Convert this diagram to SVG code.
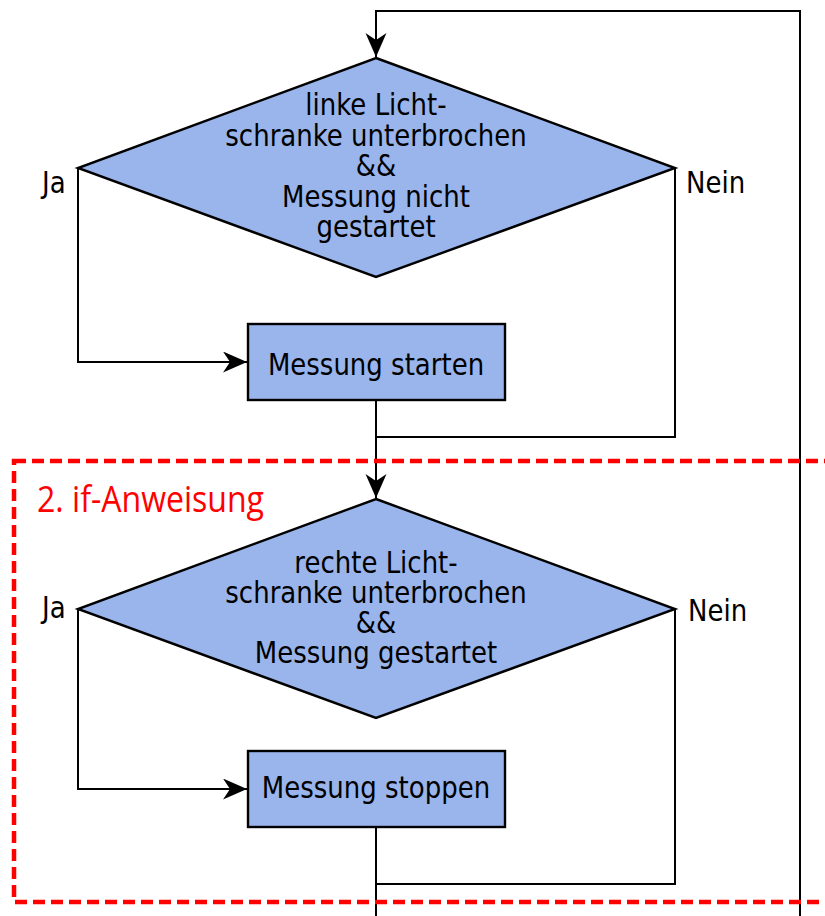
<svg xmlns="http://www.w3.org/2000/svg" width="825" height="916" viewBox="0 0 825 916">
<defs>
<marker id="arr" markerWidth="26" markerHeight="22" refX="24" refY="10.5" orient="auto" markerUnits="userSpaceOnUse">
<path d="M0,0 L24,10.5 L0,21 L7,10.5 Z" fill="#000"/>
</marker>
<style>
.shape{fill:#9ab5ec;stroke:#000;stroke-width:2.4}
.t{font-family:"DejaVu Sans",sans-serif;font-size:26px;fill:#000;text-anchor:middle}
.lbl{font-family:"DejaVu Sans",sans-serif;font-size:26px;fill:#000}
.line{fill:none;stroke:#000;stroke-width:2}
</style>
</defs>
<rect width="825" height="916" fill="#fff"/>
<g id="connectors">
<path class="line" d="M800,916 L800,11 L376,11 L376,57" marker-end="url(#arr)"/>
<path class="line" d="M78,168 L78,362 L247,362" marker-end="url(#arr)"/>
<path class="line" d="M675,168 L675,437 L376,437"/>
<path class="line" d="M376,400 L376,498" marker-end="url(#arr)"/>
<path class="line" d="M78,609 L78,789 L247,789" marker-end="url(#arr)"/>
<path class="line" d="M675,609 L675,884 L376,884"/>
<path class="line" d="M376,827 L376,916"/>
</g>
<g id="decision1">
<polygon class="shape" points="376,58 675,168 376,277 78,168"/>
<text class="t" transform="translate(376,115) scale(1,1.13)">linke Licht-</text>
<text class="t" transform="translate(376,145.5) scale(1,1.13)">schranke unterbrochen</text>
<text class="t" transform="translate(376,176) scale(1,1.13)">&amp;&amp;</text>
<text class="t" transform="translate(376,206.5) scale(1,1.13)">Messung nicht</text>
<text class="t" transform="translate(376,237) scale(1,1.13)">gestartet</text>
<text class="lbl" transform="translate(42,193) scale(1,1.13)">Ja</text>
<text class="lbl" transform="translate(686,193) scale(1,1.13)">Nein</text>
</g>
<g id="process1">
<rect class="shape" x="248" y="324" width="257" height="76"/>
<text class="t" transform="translate(376,375) scale(1,1.13)">Messung starten</text>
</g>
<g id="frame">
<rect x="14" y="461" width="830" height="441" fill="none" stroke="#f00" stroke-width="4.5" stroke-dasharray="12,6"/>
<text transform="translate(37,512) scale(1,1.14)" font-family="Open Sans,sans-serif" font-size="32" fill="#f00" textLength="227" lengthAdjust="spacingAndGlyphs">2. if-Anweisung</text>
</g>
<g id="decision2">
<polygon class="shape" points="376,499 675,609 376,718 78,609"/>
<text class="t" transform="translate(376,573) scale(1,1.13)">rechte Licht-</text>
<text class="t" transform="translate(376,603) scale(1,1.13)">schranke unterbrochen</text>
<text class="t" transform="translate(376,633) scale(1,1.13)">&amp;&amp;</text>
<text class="t" transform="translate(376,663) scale(1,1.13)">Messung gestartet</text>
<text class="lbl" transform="translate(42,618) scale(1,1.13)">Ja</text>
<text class="lbl" transform="translate(688,621) scale(1,1.13)">Nein</text>
</g>
<g id="process2">
<rect class="shape" x="248" y="751" width="257" height="76"/>
<text class="t" transform="translate(376,798) scale(1,1.13)">Messung stoppen</text>
</g>
</svg>
